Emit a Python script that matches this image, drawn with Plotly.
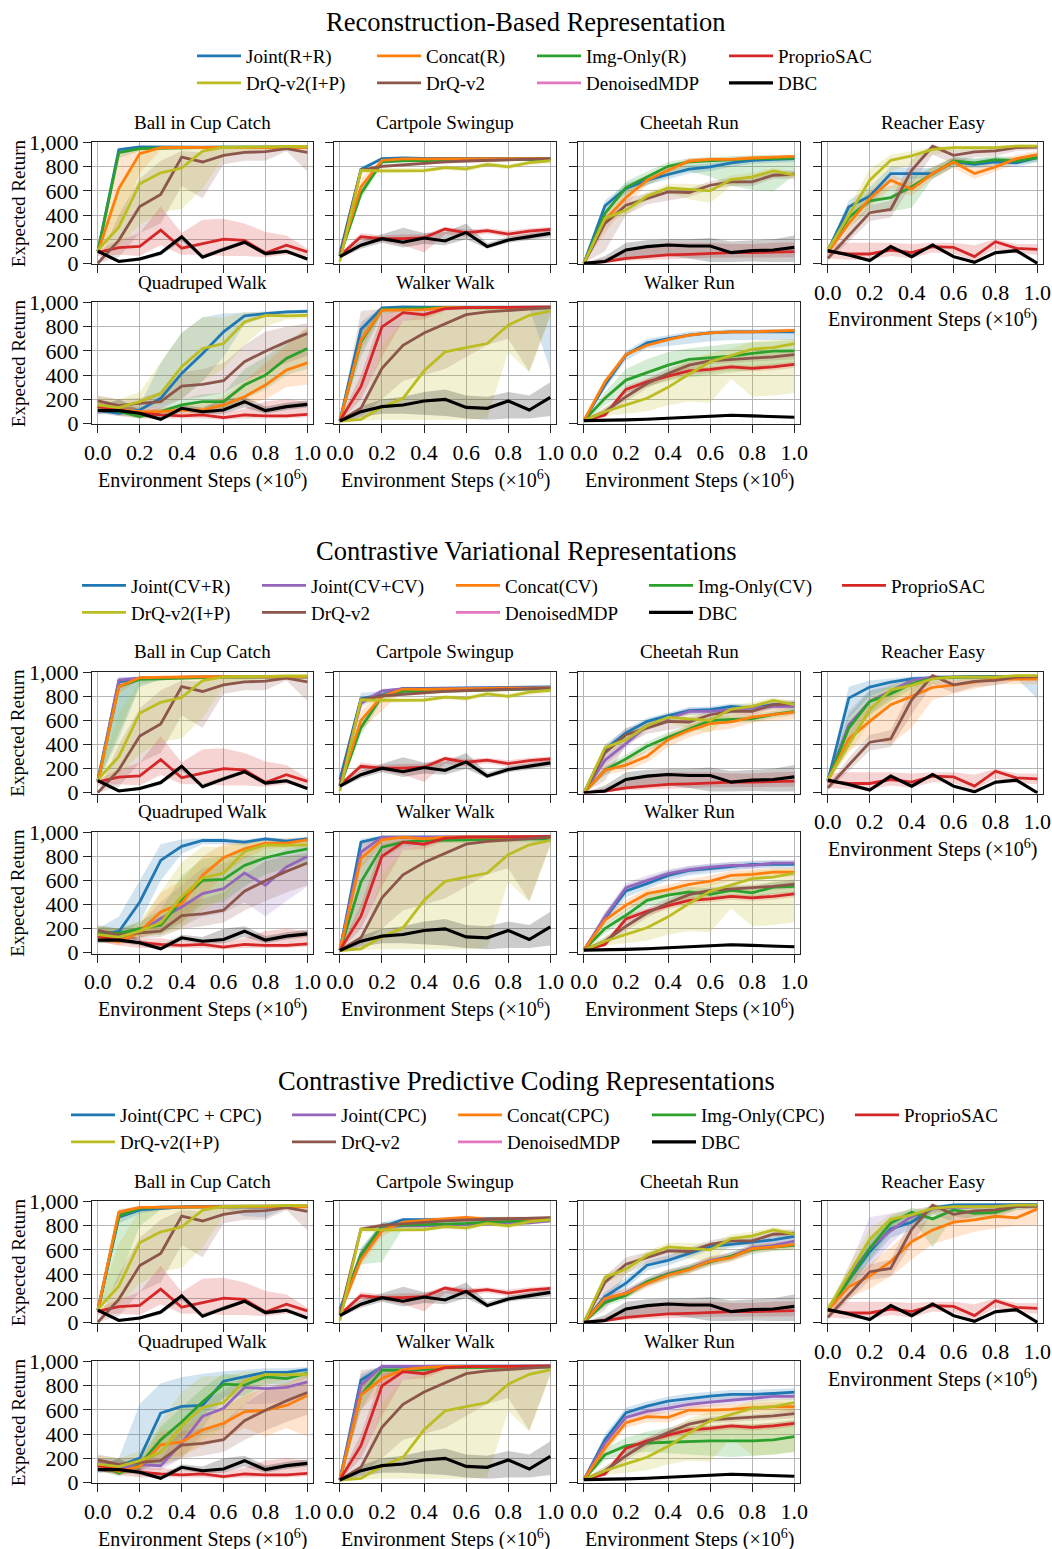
import plotly.graph_objects as go

W, H = 1052, 1549
X = [0.0, 0.1, 0.2, 0.3, 0.4, 0.5, 0.6, 0.7, 0.8, 0.9, 1.0]

SECTION_TITLES = ["Reconstruction-Based Representation",
                  "Contrastive Variational Representations",
                  "Contrastive Predictive Coding Representations"]
TASK_KEYS = ["BIC", "CPS", "CHR", "RCE", "QDW", "WKW", "WKR"]
TASK_TITLES = ["Ball in Cup Catch", "Cartpole Swingup", "Cheetah Run", "Reacher Easy",
               "Quadruped Walk", "Walker Walk", "Walker Run"]
Y_TICKS = [0, 200, 400, 600, 800, 1000]
X_TICKS = [0.0, 0.2, 0.4, 0.6, 0.8, 1.0]

# ---------------- baselines (identical in all three groups) ----------------
BIC_DRQIP = [110, 300, 660, 750, 790, 930, 960, 965, 965, 968, 968]
BIC_DRQIP_LO = [90, 150, 320, 420, 450, 620, 880, 930, 940, 945, 945]
BIC_DRQIP_HI = [130, 650, 930, 950, 955, 965, 970, 975, 975, 975, 975]
BIC_DRQ = [0, 190, 470, 570, 880, 840, 895, 920, 925, 950, 920]
BIC_DRQ_LO = [0, 50, 250, 330, 640, 540, 820, 850, 850, 930, 760]
BIC_DRQ_HI = [0, 400, 700, 850, 930, 920, 950, 960, 960, 965, 960]
BIC_PSAC = [90, 130, 140, 275, 125, 165, 200, 190, 85, 150, 95]
BIC_PSAC_LO = [60, 70, 60, 150, 70, 70, 60, 60, 50, 70, 60]
BIC_PSAC_HI = [110, 190, 250, 470, 250, 360, 370, 330, 260, 230, 120]
BIC_DBC = [100, 15, 35, 85, 220, 50, 115, 175, 80, 100, 35]
BIC_DBC_LO = [85, 5, 20, 65, 185, 35, 95, 160, 60, 85, 20]
BIC_DBC_HI = [115, 30, 50, 100, 235, 70, 135, 190, 100, 115, 50]

CPS_DRQIP = [15, 771, 766, 766, 768, 793, 782, 820, 800, 835, 850]
CPS_DRQIP_LO = [5, 745, 745, 745, 750, 775, 760, 800, 780, 810, 830]
CPS_DRQIP_HI = [30, 790, 790, 790, 790, 810, 800, 840, 820, 850, 865]
CPS_DRQ = [60, 771, 804, 818, 826, 840, 848, 853, 853, 862, 868]
CPS_DRQ_LO = [40, 755, 790, 805, 815, 828, 838, 843, 845, 852, 858]
CPS_DRQ_HI = [80, 790, 820, 830, 838, 850, 858, 863, 863, 870, 876]
CPS_PSAC = [63, 220, 204, 204, 212, 284, 253, 270, 242, 267, 281]
CPS_PSAC_LO = [45, 180, 180, 150, 90, 240, 220, 245, 215, 200, 260]
CPS_PSAC_HI = [80, 250, 230, 240, 240, 300, 280, 290, 270, 290, 300]
CPS_DBC = [55, 150, 204, 174, 209, 185, 256, 138, 193, 220, 248]
CPS_DBC_LO = [40, 120, 170, 130, 160, 150, 200, 120, 170, 190, 215]
CPS_DBC_HI = [70, 185, 240, 295, 250, 260, 330, 165, 220, 250, 275]

CHR_DRQIP = [0, 372, 441, 556, 625, 614, 600, 694, 716, 766, 730]
CHR_DRQIP_LO = [0, 330, 400, 520, 580, 530, 500, 640, 680, 730, 700]
CHR_DRQIP_HI = [0, 400, 480, 590, 660, 660, 650, 730, 750, 790, 760]
CHR_DRQ = [0, 330, 482, 537, 592, 587, 647, 675, 675, 730, 738]
CHR_DRQ_LO = [0, 100, 400, 490, 520, 550, 610, 640, 640, 700, 700]
CHR_DRQ_HI = [0, 380, 540, 580, 630, 620, 680, 710, 710, 760, 770]
CHR_PSAC = [0, 14, 41, 55, 69, 74, 83, 88, 88, 91, 96]
CHR_PSAC_LO = [0, 5, 20, 30, 35, 40, 45, 45, 45, 50, 50]
CHR_PSAC_HI = [0, 40, 120, 150, 170, 170, 170, 160, 160, 170, 175]
CHR_DBC = [0, 14, 110, 138, 152, 143, 143, 88, 105, 110, 132]
CHR_DBC_LO = [0, 0, 30, 60, 60, 40, 10, 10, 15, 10, 10]
CHR_DBC_HI = [0, 60, 170, 190, 200, 200, 210, 180, 190, 200, 230]

RCE_DRQIP = [110, 400, 689, 854, 890, 945, 959, 959, 959, 972, 972]
RCE_DRQIP_LO = [90, 330, 580, 760, 820, 900, 930, 935, 935, 950, 950]
RCE_DRQIP_HI = [130, 470, 780, 900, 930, 965, 975, 975, 975, 985, 985]
RCE_DRQ = [41, 234, 419, 446, 771, 970, 895, 923, 931, 959, 964]
RCE_DRQ_LO = [20, 180, 350, 380, 650, 900, 830, 880, 890, 930, 940]
RCE_DRQ_HI = [60, 290, 480, 520, 860, 985, 940, 950, 960, 975, 980]
RCE_PSAC = [96, 77, 77, 110, 88, 138, 132, 55, 179, 124, 116]
RCE_PSAC_LO = [40, 30, 30, 60, 40, 90, 80, 20, 120, 80, 70]
RCE_PSAC_HI = [160, 170, 170, 170, 160, 170, 170, 150, 200, 160, 160]
RCE_DBC = [105, 69, 22, 138, 55, 152, 55, 8, 88, 105, 0]
RCE_DBC_LO = [95, 55, 10, 120, 40, 135, 40, 0, 70, 90, 0]
RCE_DBC_HI = [115, 85, 35, 155, 70, 165, 70, 20, 105, 120, 10]

QDW_DRQIP = [150, 130, 180, 248, 468, 620, 661, 840, 895, 890, 895]
QDW_DRQIP_LO = [110, 100, 130, 150, 200, 350, 450, 650, 800, 860, 870]
QDW_DRQIP_HI = [220, 200, 260, 500, 750, 880, 880, 920, 920, 915, 920]
QDW_DRQ = [185, 146, 165, 180, 308, 322, 353, 510, 598, 675, 744]
QDW_DRQ_LO = [120, 110, 120, 130, 200, 220, 250, 350, 430, 500, 560]
QDW_DRQ_HI = [230, 200, 210, 260, 420, 450, 500, 650, 760, 800, 830]
QDW_PSAC = [138, 110, 83, 69, 61, 69, 47, 69, 61, 61, 74]
QDW_PSAC_LO = [100, 60, 40, 40, 40, 40, 30, 40, 40, 40, 50]
QDW_PSAC_HI = [170, 150, 120, 120, 100, 100, 90, 120, 180, 200, 180]
QDW_DBC = [105, 105, 83, 33, 124, 96, 110, 179, 105, 138, 157]
QDW_DBC_LO = [80, 85, 60, 20, 100, 75, 80, 130, 80, 110, 130]
QDW_DBC_HI = [130, 200, 110, 60, 150, 130, 200, 220, 140, 170, 190]

WKW_DRQIP = [19, 33, 132, 207, 435, 592, 628, 661, 813, 895, 931]
WKW_DRQIP_LO = [10, 20, 30, 30, 30, 30, 30, 40, 590, 420, 880]
WKW_DRQIP_HI = [30, 60, 650, 850, 900, 930, 940, 950, 955, 960, 960]
WKW_DRQ = [19, 124, 455, 647, 749, 826, 900, 923, 937, 950, 959]
WKW_DRQ_LO = [10, 60, 200, 350, 400, 450, 550, 650, 700, 430, 900]
WKW_DRQ_HI = [30, 930, 950, 950, 950, 955, 960, 960, 960, 965, 965]
WKW_PSAC = [22, 303, 799, 917, 900, 950, 959, 959, 959, 964, 964]
WKW_PSAC_LO = [10, 200, 550, 850, 860, 930, 945, 945, 945, 950, 950]
WKW_PSAC_HI = [35, 400, 900, 945, 940, 962, 968, 968, 968, 970, 970]
WKW_DBC = [19, 96, 138, 152, 185, 198, 132, 124, 185, 110, 215]
WKW_DBC_LO = [10, 50, 80, 80, 70, 60, 40, 30, 40, 40, 60]
WKW_DBC_HI = [30, 140, 200, 220, 260, 280, 230, 220, 260, 230, 340]

WKR_DRQIP = [22, 96, 152, 207, 298, 408, 510, 565, 614, 628, 661]
WKR_DRQIP_LO = [15, 60, 80, 100, 150, 180, 170, 370, 220, 230, 250]
WKR_DRQIP_HI = [30, 130, 230, 320, 430, 530, 580, 620, 680, 690, 700]
WKR_DRQ = [22, 96, 220, 330, 413, 482, 518, 529, 537, 551, 570]
WKR_DRQ_LO = [15, 60, 180, 290, 380, 450, 490, 500, 510, 520, 530]
WKR_DRQ_HI = [30, 130, 260, 370, 450, 510, 545, 560, 565, 580, 610]
WKR_PSAC = [22, 69, 281, 344, 391, 435, 446, 468, 455, 468, 488]
WKR_PSAC_LO = [15, 50, 250, 310, 360, 400, 420, 440, 430, 440, 460]
WKR_PSAC_HI = [30, 90, 310, 370, 420, 460, 470, 490, 480, 495, 510]
WKR_DBC = [22, 28, 28, 33, 41, 47, 55, 66, 61, 55, 50]
WKR_DBC_LO = [15, 22, 22, 27, 35, 40, 45, 55, 50, 45, 42]
WKR_DBC_HI = [30, 35, 35, 40, 48, 55, 65, 78, 72, 65, 58]

# ---------------- group 1: reconstruction (R) ----------------
BIC_R_JNT = [100, 942, 964, 962, 962, 962, 963, 963, 963, 964, 964]
BIC_R_JNT_LO = [90, 915, 955, 955, 955, 955, 955, 955, 955, 958, 958]
BIC_R_JNT_HI = [110, 960, 972, 970, 970, 970, 970, 970, 970, 970, 970]
BIC_R_CAT = [90, 620, 909, 959, 960, 960, 960, 960, 960, 960, 960]
BIC_R_CAT_LO = [80, 300, 750, 940, 950, 950, 950, 950, 950, 950, 950]
BIC_R_CAT_HI = [100, 900, 955, 968, 968, 968, 968, 968, 968, 968, 968]
BIC_R_IMG = [100, 917, 950, 955, 958, 960, 962, 962, 962, 962, 962]
BIC_R_IMG_LO = [90, 870, 930, 945, 950, 952, 955, 955, 955, 955, 955]
BIC_R_IMG_HI = [110, 945, 965, 965, 966, 968, 968, 968, 968, 968, 968]

CPS_R_JNT = [80, 777, 868, 873, 870, 870, 870, 870, 868, 868, 870]
CPS_R_JNT_LO = [60, 760, 855, 862, 860, 860, 860, 860, 858, 858, 860]
CPS_R_JNT_HI = [100, 800, 880, 883, 880, 880, 880, 880, 878, 878, 880]
CPS_R_CAT = [70, 634, 854, 865, 865, 866, 866, 867, 867, 868, 868]
CPS_R_CAT_LO = [55, 580, 830, 855, 855, 856, 856, 857, 857, 858, 858]
CPS_R_CAT_HI = [85, 700, 870, 875, 875, 876, 876, 877, 877, 878, 878]
CPS_R_IMG = [60, 579, 840, 850, 852, 855, 857, 858, 860, 860, 862]
CPS_R_IMG_LO = [45, 530, 820, 840, 842, 845, 847, 848, 850, 850, 852]
CPS_R_IMG_HI = [75, 640, 855, 860, 862, 865, 867, 868, 870, 870, 872]

CHR_R_JNT = [0, 477, 620, 689, 736, 780, 799, 832, 854, 859, 868]
CHR_R_JNT_LO = [0, 430, 580, 650, 700, 745, 765, 800, 825, 830, 840]
CHR_R_JNT_HI = [0, 520, 660, 725, 770, 815, 830, 860, 880, 885, 892]
CHR_R_CAT = [0, 358, 545, 689, 771, 848, 862, 862, 873, 881, 887]
CHR_R_CAT_LO = [0, 250, 480, 650, 740, 820, 840, 845, 855, 865, 870]
CHR_R_CAT_HI = [0, 400, 600, 720, 800, 870, 880, 880, 890, 895, 900]
CHR_R_IMG = [0, 413, 628, 716, 804, 840, 848, 859, 868, 868, 873]
CHR_R_IMG_LO = [0, 330, 560, 650, 720, 760, 720, 640, 610, 595, 730]
CHR_R_IMG_HI = [0, 480, 680, 760, 840, 870, 880, 890, 895, 895, 895]

RCE_R_JNT = [105, 468, 556, 744, 744, 744, 840, 820, 840, 832, 876]
RCE_R_JNT_LO = [90, 400, 480, 680, 700, 700, 800, 790, 800, 800, 840]
RCE_R_JNT_HI = [120, 520, 630, 800, 790, 790, 880, 860, 880, 870, 910]
RCE_R_CAT = [90, 330, 537, 689, 614, 744, 840, 744, 799, 868, 900]
RCE_R_CAT_LO = [75, 280, 470, 620, 560, 700, 790, 700, 760, 830, 860]
RCE_R_CAT_HI = [105, 380, 600, 740, 670, 800, 880, 790, 850, 900, 930]
RCE_R_IMG = [100, 380, 518, 545, 634, 744, 848, 832, 859, 848, 876]
RCE_R_IMG_LO = [85, 300, 440, 430, 460, 700, 800, 800, 830, 820, 840]
RCE_R_IMG_HI = [115, 450, 600, 640, 720, 800, 880, 870, 890, 880, 910]

QDW_R_JNT = [110, 83, 110, 207, 413, 579, 758, 890, 909, 923, 928]
QDW_R_JNT_LO = [80, 60, 80, 120, 200, 350, 550, 820, 880, 905, 910]
QDW_R_JNT_HI = [140, 110, 150, 500, 750, 880, 910, 920, 930, 940, 945]
QDW_R_CAT = [138, 110, 96, 96, 110, 110, 152, 220, 317, 441, 501]
QDW_R_CAT_LO = [110, 80, 70, 70, 80, 80, 100, 150, 200, 300, 320]
QDW_R_CAT_HI = [170, 140, 130, 130, 150, 160, 220, 350, 500, 650, 800]
QDW_R_IMG = [138, 96, 55, 96, 152, 180, 180, 317, 400, 537, 620]
QDW_R_IMG_LO = [110, 70, 40, 70, 110, 130, 120, 200, 280, 400, 450]
QDW_R_IMG_HI = [170, 130, 80, 130, 200, 240, 250, 450, 550, 680, 780]

WKW_R_JNT = [20, 777, 956, 964, 962, 962, 962, 962, 962, 962, 962]
WKW_R_JNT_LO = [10, 700, 940, 955, 955, 955, 955, 955, 955, 955, 440]
WKW_R_JNT_HI = [30, 840, 968, 972, 970, 970, 970, 970, 970, 970, 970]
WKW_R_CAT = [20, 689, 937, 942, 942, 959, 960, 960, 960, 960, 960]
WKW_R_CAT_LO = [10, 600, 910, 930, 930, 950, 952, 952, 952, 952, 952]
WKW_R_CAT_HI = [30, 760, 955, 955, 955, 966, 968, 968, 968, 968, 968]
WKW_R_IMG = [20, 675, 942, 950, 955, 958, 958, 958, 958, 958, 958]
WKW_R_IMG_LO = [10, 550, 900, 935, 945, 950, 950, 950, 950, 950, 950]
WKW_R_IMG_HI = [30, 760, 960, 962, 964, 965, 965, 965, 965, 965, 965]

WKR_R_JNT = [22, 317, 565, 667, 702, 730, 749, 758, 758, 758, 758]
WKR_R_JNT_LO = [15, 280, 520, 620, 640, 660, 680, 690, 690, 690, 690]
WKR_R_JNT_HI = [30, 350, 600, 700, 730, 760, 770, 780, 780, 780, 780]
WKR_R_CAT = [22, 344, 570, 647, 694, 730, 749, 758, 758, 763, 771]
WKR_R_CAT_LO = [15, 320, 550, 630, 680, 715, 735, 745, 745, 750, 755]
WKR_R_CAT_HI = [30, 370, 590, 665, 710, 745, 765, 772, 772, 778, 785]
WKR_R_IMG = [22, 207, 358, 421, 482, 529, 545, 556, 579, 598, 601]
WKR_R_IMG_LO = [15, 150, 250, 300, 350, 380, 400, 420, 440, 460, 480]
WKR_R_IMG_HI = [30, 260, 450, 530, 590, 620, 640, 660, 670, 680, 690]

# ---------------- group 2: contrastive variational (CV) ----------------
BIC_CV_JNT = [100, 920, 950, 955, 960, 960, 960, 960, 960, 962, 962]
BIC_CV_JNT_LO = [90, 450, 880, 940, 950, 950, 950, 950, 950, 952, 952]
BIC_CV_JNT_HI = [110, 960, 965, 965, 968, 968, 968, 968, 968, 970, 970]
BIC_CV_JNT2 = [100, 935, 950, 955, 958, 960, 962, 962, 962, 962, 962]
BIC_CV_JNT2_LO = [90, 900, 935, 945, 950, 952, 955, 955, 955, 955, 955]
BIC_CV_JNT2_HI = [110, 955, 962, 965, 966, 968, 968, 968, 968, 968, 968]
BIC_CV_CAT = [90, 880, 955, 955, 960, 962, 962, 962, 962, 962, 962]
BIC_CV_CAT_LO = [80, 820, 940, 945, 950, 952, 955, 955, 955, 955, 955]
BIC_CV_CAT_HI = [100, 920, 965, 965, 968, 968, 968, 968, 968, 968, 968]
BIC_CV_IMG = [100, 880, 940, 945, 955, 958, 960, 960, 962, 962, 962]
BIC_CV_IMG_LO = [90, 500, 900, 930, 945, 950, 952, 952, 955, 955, 955]
BIC_CV_IMG_HI = [110, 930, 960, 962, 965, 966, 968, 968, 968, 968, 968]

CPS_CV_JNT = [110, 780, 812, 865, 865, 868, 870, 872, 872, 875, 878]
CPS_CV_JNT_LO = [90, 750, 790, 850, 852, 855, 858, 860, 860, 862, 865]
CPS_CV_JNT_HI = [130, 830, 840, 880, 878, 880, 882, 884, 884, 888, 890]
CPS_CV_JNT2 = [70, 740, 845, 862, 862, 865, 868, 868, 870, 870, 872]
CPS_CV_JNT2_LO = [55, 700, 825, 850, 850, 853, 856, 856, 858, 858, 860]
CPS_CV_JNT2_HI = [85, 780, 860, 874, 874, 877, 880, 880, 882, 882, 884]
CPS_CV_CAT = [60, 600, 800, 860, 858, 862, 866, 868, 868, 868, 870]
CPS_CV_CAT_LO = [45, 520, 680, 845, 845, 850, 855, 856, 856, 856, 858]
CPS_CV_CAT_HI = [75, 680, 850, 872, 870, 874, 878, 880, 880, 880, 882]
CPS_CV_IMG = [50, 540, 800, 840, 840, 845, 850, 850, 855, 860, 860]
CPS_CV_IMG_LO = [35, 480, 760, 825, 825, 830, 835, 835, 840, 845, 845]
CPS_CV_IMG_HI = [65, 600, 830, 855, 855, 860, 865, 865, 870, 875, 875]

CHR_CV_JNT = [0, 358, 496, 592, 639, 680, 689, 716, 702, 730, 730]
CHR_CV_JNT_LO = [0, 320, 460, 560, 610, 650, 660, 690, 675, 700, 700]
CHR_CV_JNT_HI = [0, 400, 530, 620, 665, 710, 715, 740, 730, 755, 755]
CHR_CV_JNT2 = [0, 270, 408, 556, 614, 675, 675, 689, 702, 716, 716]
CHR_CV_JNT2_LO = [0, 230, 370, 520, 585, 645, 645, 660, 675, 690, 690]
CHR_CV_JNT2_HI = [0, 310, 450, 590, 645, 705, 705, 720, 730, 745, 745]
CHR_CV_CAT = [0, 187, 229, 303, 441, 518, 573, 587, 628, 650, 669]
CHR_CV_CAT_LO = [0, 150, 180, 250, 380, 460, 510, 530, 580, 600, 610]
CHR_CV_CAT_HI = [0, 220, 280, 350, 490, 560, 620, 640, 680, 700, 720]
CHR_CV_IMG = [0, 187, 281, 386, 460, 529, 598, 609, 614, 650, 675]
CHR_CV_IMG_LO = [0, 150, 240, 345, 420, 495, 565, 580, 585, 620, 645]
CHR_CV_IMG_HI = [0, 220, 320, 425, 500, 560, 630, 640, 645, 680, 705]

RCE_CV_JNT = [100, 785, 876, 917, 945, 953, 959, 964, 964, 964, 964]
RCE_CV_JNT_LO = [85, 620, 800, 870, 920, 935, 945, 950, 950, 950, 780]
RCE_CV_JNT_HI = [115, 880, 930, 950, 965, 970, 972, 975, 975, 975, 975]
RCE_CV_JNT2 = [100, 565, 758, 848, 931, 959, 960, 960, 962, 962, 962]
RCE_CV_JNT2_LO = [85, 430, 650, 790, 890, 940, 945, 945, 948, 948, 948]
RCE_CV_JNT2_HI = [115, 680, 850, 900, 960, 972, 972, 972, 974, 974, 974]
RCE_CV_CAT = [100, 446, 592, 730, 799, 873, 893, 915, 942, 942, 942]
RCE_CV_CAT_LO = [85, 350, 450, 400, 540, 770, 820, 860, 900, 900, 900]
RCE_CV_CAT_HI = [115, 540, 720, 820, 880, 920, 930, 945, 965, 965, 965]
RCE_CV_IMG = [100, 537, 758, 821, 904, 953, 959, 960, 962, 962, 962]
RCE_CV_IMG_LO = [85, 420, 650, 760, 860, 930, 940, 945, 948, 948, 948]
RCE_CV_IMG_HI = [115, 650, 850, 880, 940, 970, 972, 972, 974, 974, 974]

QDW_CV_JNT = [150, 174, 421, 766, 882, 931, 931, 917, 945, 926, 945]
QDW_CV_JNT_LO = [100, 120, 250, 600, 820, 900, 900, 890, 920, 900, 920]
QDW_CV_JNT_HI = [200, 300, 600, 900, 940, 950, 950, 940, 960, 945, 960]
QDW_CV_JNT2 = [160, 146, 174, 284, 380, 490, 532, 661, 559, 711, 799]
QDW_CV_JNT2_LO = [110, 100, 120, 170, 220, 300, 330, 420, 300, 430, 550]
QDW_CV_JNT2_HI = [210, 200, 240, 420, 560, 700, 740, 800, 780, 860, 900]
QDW_CV_CAT = [130, 91, 174, 339, 408, 642, 788, 862, 909, 909, 937]
QDW_CV_CAT_LO = [90, 60, 120, 200, 250, 450, 650, 780, 860, 870, 900]
QDW_CV_CAT_HI = [170, 130, 230, 500, 600, 800, 900, 930, 950, 950, 960]
QDW_CV_IMG = [170, 160, 201, 229, 435, 601, 609, 724, 788, 829, 862]
QDW_CV_IMG_LO = [120, 120, 150, 150, 250, 400, 420, 550, 650, 700, 750]
QDW_CV_IMG_HI = [220, 200, 260, 350, 640, 780, 800, 880, 900, 920, 930]

WKW_CV_JNT = [20, 917, 959, 960, 960, 960, 960, 960, 960, 960, 960]
WKW_CV_JNT_LO = [10, 880, 950, 952, 952, 952, 952, 952, 952, 952, 952]
WKW_CV_JNT_HI = [30, 945, 968, 968, 968, 968, 968, 968, 968, 968, 968]
WKW_CV_JNT2 = [20, 835, 959, 960, 962, 962, 962, 962, 962, 962, 962]
WKW_CV_JNT2_LO = [10, 780, 945, 950, 952, 952, 952, 952, 952, 952, 952]
WKW_CV_JNT2_HI = [30, 880, 968, 970, 970, 970, 970, 970, 970, 970, 970]
WKW_CV_CAT = [20, 780, 937, 959, 945, 959, 960, 960, 960, 960, 960]
WKW_CV_CAT_LO = [10, 700, 900, 945, 930, 945, 950, 950, 950, 950, 950]
WKW_CV_CAT_HI = [30, 850, 960, 968, 958, 968, 968, 968, 968, 968, 968]
WKW_CV_IMG = [20, 587, 876, 917, 931, 937, 937, 940, 940, 945, 945]
WKW_CV_IMG_LO = [10, 350, 780, 880, 900, 910, 910, 915, 915, 920, 920]
WKW_CV_IMG_HI = [30, 750, 930, 950, 955, 958, 958, 960, 960, 962, 962]

WKR_CV_JNT = [22, 284, 512, 573, 642, 683, 697, 716, 733, 733, 733]
WKR_CV_JNT_LO = [15, 240, 460, 530, 600, 640, 660, 680, 700, 700, 700]
WKR_CV_JNT_HI = [30, 330, 560, 620, 680, 720, 735, 750, 765, 765, 765]
WKR_CV_JNT2 = [22, 298, 540, 600, 656, 689, 711, 724, 724, 744, 744]
WKR_CV_JNT2_LO = [15, 260, 500, 560, 620, 655, 680, 695, 695, 720, 720]
WKR_CV_JNT2_HI = [30, 340, 580, 640, 690, 720, 740, 755, 755, 768, 768]
WKR_CV_CAT = [22, 270, 394, 490, 523, 567, 595, 642, 650, 669, 669]
WKR_CV_CAT_LO = [15, 230, 350, 440, 480, 520, 550, 600, 610, 630, 630]
WKR_CV_CAT_HI = [30, 310, 440, 530, 565, 610, 640, 680, 690, 705, 705]
WKR_CV_IMG = [22, 201, 311, 435, 477, 504, 485, 518, 496, 545, 551]
WKR_CV_IMG_LO = [15, 160, 260, 380, 420, 450, 440, 470, 450, 490, 500]
WKR_CV_IMG_HI = [30, 240, 360, 480, 520, 550, 530, 560, 545, 590, 600]

# ---------------- group 3: contrastive predictive coding (CPC) ----------------
BIC_CPC_JNT = [100, 871, 932, 945, 955, 960, 960, 958, 955, 962, 962]
BIC_CPC_JNT_LO = [90, 820, 900, 930, 945, 950, 950, 880, 870, 952, 952]
BIC_CPC_JNT_HI = [110, 910, 955, 960, 965, 968, 968, 968, 968, 970, 970]
BIC_CPC_JNT2 = [100, 900, 950, 955, 958, 960, 962, 962, 962, 962, 962]
BIC_CPC_JNT2_LO = [90, 860, 935, 945, 950, 952, 955, 955, 955, 955, 955]
BIC_CPC_JNT2_HI = [110, 930, 962, 965, 966, 968, 968, 968, 968, 968, 968]
BIC_CPC_CAT = [100, 912, 953, 955, 958, 958, 958, 958, 958, 958, 958]
BIC_CPC_CAT_LO = [90, 870, 940, 945, 950, 950, 950, 950, 950, 950, 950]
BIC_CPC_CAT_HI = [110, 940, 962, 965, 966, 966, 966, 966, 966, 966, 966]
BIC_CPC_IMG = [100, 880, 945, 955, 955, 958, 960, 960, 960, 960, 960]
BIC_CPC_IMG_LO = [90, 350, 800, 930, 945, 950, 952, 952, 952, 952, 952]
BIC_CPC_IMG_HI = [110, 930, 962, 965, 965, 966, 968, 968, 968, 968, 968]

CPS_CPC_JNT = [110, 550, 790, 850, 850, 855, 858, 860, 860, 862, 862]
CPS_CPC_JNT_LO = [90, 500, 740, 835, 835, 840, 843, 845, 845, 847, 847]
CPS_CPC_JNT_HI = [130, 600, 830, 865, 865, 870, 873, 875, 875, 877, 877]
CPS_CPC_JNT2 = [90, 560, 790, 800, 800, 805, 810, 815, 820, 825, 840]
CPS_CPC_JNT2_LO = [70, 510, 750, 785, 785, 790, 795, 800, 805, 810, 825]
CPS_CPC_JNT2_HI = [110, 610, 820, 815, 815, 820, 825, 830, 835, 840, 855]
CPS_CPC_CAT = [80, 520, 760, 830, 845, 855, 870, 855, 860, 858, 860]
CPS_CPC_CAT_LO = [60, 470, 710, 810, 830, 840, 855, 840, 845, 843, 845]
CPS_CPC_CAT_HI = [100, 570, 800, 850, 860, 870, 885, 870, 875, 873, 875]
CPS_CPC_IMG = [70, 560, 800, 805, 805, 810, 820, 830, 835, 840, 850]
CPS_CPC_IMG_LO = [50, 480, 500, 780, 760, 790, 800, 810, 815, 820, 830]
CPS_CPC_IMG_HI = [90, 620, 830, 825, 825, 830, 840, 850, 855, 860, 870]

CHR_CPC_JNT = [0, 214, 324, 473, 514, 569, 629, 646, 665, 684, 712]
CHR_CPC_JNT_LO = [0, 180, 280, 430, 470, 530, 600, 615, 635, 655, 680]
CHR_CPC_JNT_HI = [0, 250, 370, 510, 555, 605, 660, 675, 695, 715, 740]
CHR_CPC_JNT2 = [0, 184, 245, 335, 404, 445, 514, 547, 618, 637, 673]
CHR_CPC_JNT2_LO = [0, 150, 210, 300, 370, 410, 480, 515, 585, 605, 640]
CHR_CPC_JNT2_HI = [0, 220, 280, 370, 440, 480, 550, 580, 650, 670, 705]
CHR_CPC_CAT = [0, 198, 239, 321, 390, 437, 508, 536, 610, 624, 646]
CHR_CPC_CAT_LO = [0, 165, 205, 285, 355, 400, 470, 500, 575, 590, 610]
CHR_CPC_CAT_HI = [0, 230, 275, 355, 425, 470, 545, 570, 645, 660, 680]
CHR_CPC_IMG = [0, 162, 225, 335, 398, 445, 500, 547, 602, 624, 637]
CHR_CPC_IMG_LO = [0, 130, 190, 300, 360, 410, 465, 510, 565, 590, 600]
CHR_CPC_IMG_HI = [0, 195, 260, 370, 435, 480, 535, 580, 640, 660, 675]

RCE_CPC_JNT = [100, 349, 585, 775, 830, 948, 973, 975, 975, 975, 975]
RCE_CPC_JNT_LO = [85, 280, 500, 700, 760, 920, 955, 960, 960, 960, 960]
RCE_CPC_JNT_HI = [115, 420, 670, 840, 880, 970, 985, 988, 988, 988, 988]
RCE_CPC_JNT2 = [100, 379, 613, 761, 876, 940, 953, 960, 962, 965, 965]
RCE_CPC_JNT2_LO = [85, 300, 450, 650, 820, 910, 935, 945, 948, 950, 950]
RCE_CPC_JNT2_HI = [115, 460, 870, 900, 930, 965, 970, 975, 975, 978, 978]
RCE_CPC_CAT = [100, 294, 384, 503, 668, 764, 830, 849, 879, 865, 940]
RCE_CPC_CAT_LO = [85, 200, 280, 380, 520, 650, 700, 750, 780, 800, 800]
RCE_CPC_CAT_HI = [115, 380, 490, 620, 780, 860, 900, 920, 940, 930, 970]
RCE_CPC_IMG = [100, 349, 613, 822, 912, 857, 931, 904, 912, 959, 967]
RCE_CPC_IMG_LO = [85, 280, 520, 740, 860, 620, 880, 850, 860, 930, 945]
RCE_CPC_IMG_HI = [115, 420, 700, 880, 950, 920, 965, 950, 955, 980, 985]

QDW_CPC_JNT = [140, 132, 201, 574, 629, 637, 838, 876, 912, 912, 934]
QDW_CPC_JNT_LO = [90, 80, 100, 150, 300, 450, 700, 800, 860, 870, 900]
QDW_CPC_JNT_HI = [190, 200, 650, 820, 870, 900, 920, 930, 945, 945, 955]
QDW_CPC_JNT2 = [160, 115, 146, 137, 324, 547, 613, 786, 777, 786, 832]
QDW_CPC_JNT2_LO = [110, 80, 100, 100, 200, 400, 450, 650, 650, 680, 750]
QDW_CPC_JNT2_HI = [210, 160, 200, 200, 450, 680, 750, 880, 880, 880, 900]
QDW_CPC_CAT = [140, 88, 132, 310, 335, 434, 489, 585, 596, 637, 720]
QDW_CPC_CAT_LO = [100, 60, 90, 200, 220, 300, 350, 450, 380, 450, 380]
QDW_CPC_CAT_HI = [180, 120, 180, 420, 450, 560, 620, 720, 780, 820, 900]
QDW_CPC_IMG = [150, 74, 146, 352, 500, 668, 813, 805, 874, 860, 904]
QDW_CPC_IMG_LO = [100, 50, 100, 250, 380, 550, 700, 720, 820, 800, 860]
QDW_CPC_IMG_HI = [200, 110, 200, 460, 620, 780, 900, 880, 920, 910, 940]

WKW_CPC_JNT = [20, 846, 956, 960, 962, 962, 962, 962, 962, 962, 962]
WKW_CPC_JNT_LO = [10, 780, 940, 950, 952, 952, 952, 952, 952, 952, 952]
WKW_CPC_JNT_HI = [30, 900, 968, 970, 970, 970, 970, 970, 970, 970, 970]
WKW_CPC_JNT2 = [20, 805, 962, 962, 964, 964, 964, 964, 964, 964, 964]
WKW_CPC_JNT2_LO = [10, 700, 950, 952, 955, 955, 955, 955, 955, 955, 955]
WKW_CPC_JNT2_HI = [30, 880, 972, 972, 972, 972, 972, 972, 972, 972, 972]
WKW_CPC_CAT = [20, 723, 860, 934, 951, 960, 960, 960, 960, 960, 960]
WKW_CPC_CAT_LO = [10, 600, 780, 900, 930, 950, 950, 950, 950, 950, 950]
WKW_CPC_CAT_HI = [30, 820, 920, 955, 962, 968, 968, 968, 968, 968, 968]
WKW_CPC_IMG = [20, 723, 929, 929, 934, 951, 953, 955, 955, 955, 955]
WKW_CPC_IMG_LO = [10, 600, 880, 900, 910, 935, 940, 945, 945, 945, 945]
WKW_CPC_IMG_HI = [30, 820, 955, 950, 955, 962, 964, 965, 965, 965, 965]

WKR_CPC_JNT = [22, 352, 577, 632, 673, 695, 714, 728, 728, 736, 747]
WKR_CPC_JNT_LO = [15, 300, 530, 590, 630, 655, 675, 690, 690, 700, 710]
WKR_CPC_JNT_HI = [30, 400, 620, 670, 710, 735, 750, 765, 765, 772, 780]
WKR_CPC_JNT2 = [22, 324, 538, 588, 615, 646, 665, 679, 698, 712, 712]
WKR_CPC_JNT2_LO = [15, 280, 500, 550, 580, 610, 630, 645, 665, 680, 680]
WKR_CPC_JNT2_HI = [30, 370, 575, 625, 650, 680, 700, 712, 730, 745, 745]
WKR_CPC_CAT = [22, 283, 494, 544, 538, 599, 599, 604, 618, 626, 626]
WKR_CPC_CAT_LO = [15, 240, 450, 500, 495, 555, 555, 560, 575, 585, 585]
WKR_CPC_CAT_HI = [30, 330, 540, 590, 580, 640, 640, 650, 660, 668, 668]
WKR_CPC_IMG = [22, 228, 302, 324, 332, 338, 343, 343, 343, 352, 379]
WKR_CPC_IMG_LO = [15, 180, 240, 250, 240, 230, 220, 210, 220, 230, 250]
WKR_CPC_IMG_HI = [30, 280, 370, 420, 450, 460, 470, 480, 480, 490, 520]

# ---------------- styling ----------------
BLUE, PURPLE, ORANGE, GREEN = "#1f77b4", "#9467bd", "#ff7f0e", "#2ca02c"
RED, OLIVE, BROWN, PINK, BLACK = "#d62728", "#bcbd22", "#8c564b", "#e377c2", "#000000"
FONT = "Liberation Serif"

GROUP_KEYS = ["R", "CV", "CPC"]
GROUP_METHODS = [
    [("JNT", BLUE), ("IMG", GREEN), ("CAT", ORANGE)],
    [("JNT", BLUE), ("JNT2", PURPLE), ("IMG", GREEN), ("CAT", ORANGE)],
    [("JNT", BLUE), ("JNT2", PURPLE), ("IMG", GREEN), ("CAT", ORANGE)],
]
BASE_METHODS = [("PSAC", RED), ("DRQ", BROWN), ("DRQIP", OLIVE), ("DBC", BLACK)]

# legend entries: (label, colour, text-left px, row)
LEGENDS = [
    [("Joint(R+R)", BLUE, 248, 0), ("DrQ-v2(I+P)", OLIVE, 248, 1),
     ("Concat(R)", ORANGE, 428, 0), ("DrQ-v2", BROWN, 428, 1),
     ("Img-Only(R)", GREEN, 588, 0), ("DenoisedMDP", PINK, 588, 1),
     ("ProprioSAC", RED, 780, 0), ("DBC", BLACK, 780, 1)],
    [("Joint(CV+R)", BLUE, 133, 0), ("DrQ-v2(I+P)", OLIVE, 133, 1),
     ("Joint(CV+CV)", PURPLE, 313, 0), ("DrQ-v2", BROWN, 313, 1),
     ("Concat(CV)", ORANGE, 507, 0), ("DenoisedMDP", PINK, 507, 1),
     ("Img-Only(CV)", GREEN, 700, 0), ("DBC", BLACK, 700, 1),
     ("ProprioSAC", RED, 893, 0)],
    [("Joint(CPC + CPC)", BLUE, 122, 0), ("DrQ-v2(I+P)", OLIVE, 122, 1),
     ("Joint(CPC)", PURPLE, 343, 0), ("DrQ-v2", BROWN, 343, 1),
     ("Concat(CPC)", ORANGE, 509, 0), ("DenoisedMDP", PINK, 509, 1),
     ("Img-Only(CPC)", GREEN, 703, 0), ("DBC", BLACK, 703, 1),
     ("ProprioSAC", RED, 906, 0)],
]

COL_X = [(92, 313), (334, 556), (578, 800), (822, 1043)]
ROW_TOP = [142.3, 302.3]
ROW_H = 121.7
SEC_DY = 529.5
PANEL_POS = [(0, 0), (0, 1), (0, 2), (0, 3), (1, 0), (1, 1), (1, 2)]
XRANGE = [-0.028, 1.027]
YRANGE = [-6, 1003]
LEG_ITEMW = 44


def rgba(hex_color, a):
    h = hex_color.lstrip("#")
    return "rgba(%d,%d,%d,%.2f)" % (int(h[0:2], 16), int(h[2:4], 16), int(h[4:6], 16), a)


def get(name):
    return globals()[name]


fig = go.Figure()
layout = {}
annotations = []
ax = 0
for s in range(3):
    dy = s * SEC_DY
    gk = GROUP_KEYS[s]
    annotations.append(dict(text=SECTION_TITLES[s], x=0.5, y=1 - (22 + dy) / H, xref="paper",
                            yref="paper", xanchor="center", yanchor="middle", showarrow=False,
                            font=dict(size=26.5, family=FONT, color="black")))
    for p, tk in enumerate(TASK_KEYS):
        ax += 1
        r, c = PANEL_POS[p]
        x0, x1 = COL_X[c]
        top = ROW_TOP[r] + dy
        bot = top + ROW_H
        xs = "" if ax == 1 else str(ax)
        xref, yref = "x" + xs, "y" + xs
        common = dict(showline=True, mirror=True, linecolor="#222222", linewidth=1.2,
                      ticks="outside", ticklen=8, tickwidth=1.1, tickcolor="#222222",
                      showgrid=True, gridcolor="#b5b5b5", gridwidth=1, zeroline=False,
                      automargin=False,
                      tickfont=dict(size=22, family=FONT, color="black"))
        layout["xaxis" + xs] = dict(domain=[x0 / W, x1 / W], anchor=yref, range=XRANGE,
                                    tickvals=X_TICKS, tickformat=".1f",
                                    showticklabels=(r == 1 or c == 3), ticklabelstandoff=0,
                                    **common)
        layout["yaxis" + xs] = dict(domain=[1 - bot / H, 1 - top / H], anchor=xref, range=YRANGE,
                                    tickvals=Y_TICKS, tickformat=",d",
                                    showticklabels=(c == 0), **common)
        series = [(f"{tk}_{gk}_{mk}", col) for mk, col in GROUP_METHODS[s]]
        series += [(f"{tk}_{mk}", col) for mk, col in BASE_METHODS]
        for name, col in series:
            lo, hi = get(name + "_LO"), get(name + "_HI")
            fig.add_trace(go.Scatter(x=X + X[::-1], y=hi + lo[::-1], fill="toself",
                                     fillcolor=rgba(col, 0.2), line=dict(width=0), mode="lines",
                                     hoverinfo="skip", showlegend=False, xaxis=xref, yaxis=yref))
        for name, col in series:
            fig.add_trace(go.Scatter(x=X, y=get(name), mode="lines",
                                     line=dict(color=col, width=3.1 if col == BLACK else 2.8),
                                     showlegend=False, xaxis=xref, yaxis=yref))
        annotations.append(dict(text=TASK_TITLES[p], x=(x0 + x1) / 2 / W, y=1 - (top - 20) / H,
                                xref="paper", yref="paper", xanchor="center", yanchor="middle",
                                showarrow=False, font=dict(size=19, family=FONT, color="black")))
        if c == 0:
            annotations.append(dict(text="Expected Return", x=18 / W, y=1 - (top + ROW_H / 2) / H,
                                    xref="paper", yref="paper", xanchor="center", yanchor="middle",
                                    textangle=-90, showarrow=False,
                                    font=dict(size=19, family=FONT, color="black")))
        if r == 1 or c == 3:
            annotations.append(dict(text="Environment Steps (\u00d710<sup>6</sup>)",
                                    x=(x0 + x1) / 2 / W, y=1 - (bot + 55) / H,
                                    xref="paper", yref="paper", xanchor="center", yanchor="middle",
                                    showarrow=False, font=dict(size=20, family=FONT, color="black")))

# legends: one legend box per entry, placed like the reference grid
LEG_ROWS = [56, 83]
lg = 0
for s in range(3):
    for label, col, tx, row in LEGENDS[s]:
        lg += 1
        lid = "legend" if lg == 1 else f"legend{lg}"
        fig.add_trace(go.Scatter(x=[None], y=[None], mode="lines", name=label,
                                 line=dict(color=col, width=3.1 if col == BLACK else 2.8),
                                 showlegend=True, legend=lid, xaxis="x", yaxis="y"))
        layout[lid] = dict(x=(tx - LEG_ITEMW - 12) / W, y=1 - (LEG_ROWS[row] + s * SEC_DY) / H,
                           xanchor="left", yanchor="middle", bgcolor="rgba(0,0,0,0)",
                           borderwidth=0, font=dict(size=19, family=FONT, color="black"),
                           itemwidth=LEG_ITEMW)

fig.update_layout(template="none", width=W, height=H,
                  margin=dict(l=0, r=0, t=0, b=0, autoexpand=False),
                  paper_bgcolor="white", plot_bgcolor="white",
                  font=dict(family=FONT, size=19, color="black"),
                  annotations=annotations, **layout)
# the page's default 8px body margin would shift the figure; remove it
fig.write_html("out.html", config={"displayModeBar": False},
               post_script="document.body.style.margin='0';document.body.style.padding='0';")
